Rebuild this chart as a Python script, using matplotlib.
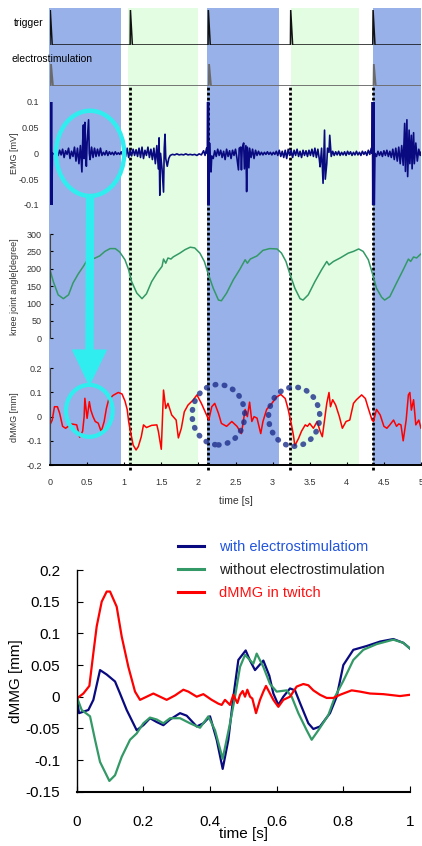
import numpy as np
import matplotlib
matplotlib.use('Agg')
import matplotlib.pyplot as plt
from matplotlib.patches import Ellipse
from matplotlib.ticker import FormatStrFormatter

plt.rcParams['font.family'] = ['Liberation Sans', 'DejaVu Sans']
plt.rcParams['axes.unicode_minus'] = False

# ---- data: top panel (time 0-5 s) ----
trigger_times = [0.0, 1.08, 2.13, 3.24, 4.35]
stim_times = [0.0, 2.13, 4.35]
blue_spans = [(-0.02, 0.96), (2.11, 3.09), (4.35, 5.0)]
green_spans = [(1.05, 2.0), (3.25, 4.17)]

emg = [
    (0.000, 0.000), (0.008, 0.100), (0.014, -0.100), (0.020, 0.100), (0.026, -0.100), (0.032, 0.000),
    (0.11, -0.004), (0.13, 0.006), (0.15, -0.003), (0.17, 0.008), (0.19, -0.008), (0.21, 0.005),
    (0.23, -0.002), (0.25, 0.010), (0.27, -0.010), (0.29, 0.004), (0.31, -0.006), (0.33, 0.012),
    (0.35, -0.015), (0.37, 0.010), (0.39, -0.020), (0.41, 0.015), (0.43, -0.036), (0.44, 0.020),
    (0.45, 0.055), (0.46, -0.010), (0.47, 0.060), (0.48, 0.010), (0.49, -0.025), (0.50, 0.020),
    (0.52, 0.065), (0.53, 0.000), (0.54, -0.012), (0.56, 0.012), (0.58, -0.008), (0.60, 0.010),
    (0.62, -0.006), (0.64, 0.008), (0.66, -0.005), (0.68, 0.010), (0.70, -0.004), (0.72, 0.002),
    (0.74, -0.003), (0.76, 0.005), (0.78, -0.004), (0.80, 0.003), (0.82, -0.002), (0.84, 0.002),
    (0.86, -0.003), (0.88, 0.003), (0.90, -0.002), (0.92, 0.001), (0.94, -0.002), (0.96, 0.003),
    (0.98, -0.004), (1.00, 0.006), (1.02, -0.006), (1.04, 0.010), (1.06, -0.008), (1.08, 0.006),
    (1.10, -0.005), (1.12, 0.008), (1.14, -0.004), (1.16, 0.007), (1.18, -0.006), (1.20, 0.010),
    (1.22, -0.008), (1.24, 0.012), (1.26, -0.010), (1.28, 0.006), (1.30, -0.004), (1.32, 0.012),
    (1.34, -0.008), (1.36, 0.008), (1.38, -0.012), (1.40, 0.010), (1.42, -0.020), (1.44, 0.015),
    (1.46, -0.030), (1.47, 0.030), (1.48, -0.081), (1.49, 0.000), (1.51, -0.030), (1.53, -0.075),
    (1.54, 0.010), (1.55, 0.037), (1.56, -0.010), (1.58, -0.025), (1.60, -0.010), (1.62, -0.004),
    (1.65, -0.002), (1.68, -0.003), (1.71, -0.001), (1.74, -0.003), (1.77, -0.002), (1.80, -0.003),
    (1.83, -0.001), (1.86, -0.003), (1.89, -0.002), (1.92, -0.003), (1.95, -0.002), (1.98, -0.004),
    (2.01, -0.001), (2.04, -0.003), (2.07, 0.005), (2.09, -0.004), (2.11, 0.010), (2.12, 0.000),
    (2.125, 0.100), (2.130, -0.100), (2.135, 0.100), (2.140, -0.100), (2.150, 0.020), (2.160, -0.020),
    (2.170, -0.036), (2.18, -0.005), (2.20, -0.010), (2.22, 0.005), (2.24, -0.006), (2.26, 0.008),
    (2.28, -0.004), (2.30, 0.006), (2.32, -0.008), (2.34, 0.004), (2.36, -0.012), (2.38, 0.008),
    (2.40, -0.006), (2.42, 0.005), (2.44, -0.010), (2.46, 0.006), (2.48, -0.004), (2.50, 0.008),
    (2.52, -0.010), (2.54, -0.032), (2.55, 0.010), (2.57, 0.012), (2.58, -0.032), (2.59, 0.010),
    (2.61, 0.020), (2.62, -0.030), (2.64, 0.015), (2.65, -0.074), (2.66, 0.012), (2.68, -0.028),
    (2.69, 0.010), (2.71, -0.008), (2.73, 0.008), (2.75, -0.010), (2.77, 0.006), (2.79, -0.004),
    (2.81, 0.004), (2.83, -0.003), (2.85, 0.002), (2.87, -0.003), (2.89, 0.002), (2.91, -0.002),
    (2.93, 0.003), (2.95, -0.002), (2.97, 0.002), (2.99, -0.003), (3.01, 0.002), (3.03, -0.002),
    (3.05, 0.004), (3.07, -0.004), (3.09, 0.006), (3.11, -0.006), (3.13, 0.004), (3.15, -0.008),
    (3.17, 0.006), (3.19, -0.010), (3.21, 0.008), (3.23, -0.004), (3.25, 0.006), (3.27, -0.008),
    (3.29, 0.006), (3.31, -0.004), (3.33, 0.008), (3.35, -0.006), (3.37, 0.004), (3.39, -0.008),
    (3.41, 0.006), (3.43, -0.004), (3.45, 0.005), (3.47, -0.006), (3.49, 0.006), (3.51, -0.004),
    (3.53, 0.008), (3.55, -0.006), (3.57, 0.010), (3.59, -0.008), (3.61, 0.008), (3.63, -0.012),
    (3.64, -0.026), (3.66, 0.010), (3.68, -0.058), (3.70, 0.045), (3.71, -0.050), (3.73, -0.020),
    (3.74, 0.010), (3.76, 0.002), (3.77, 0.035), (3.79, -0.006), (3.81, 0.004), (3.83, -0.004),
    (3.85, 0.003), (3.87, -0.003), (3.89, 0.004), (3.91, -0.004), (3.93, 0.002), (3.95, -0.003),
    (3.97, 0.003), (3.99, -0.004), (4.01, 0.004), (4.03, -0.002), (4.05, 0.003), (4.07, -0.004),
    (4.09, 0.002), (4.11, -0.003), (4.13, 0.004), (4.15, -0.003), (4.17, 0.002), (4.19, -0.004),
    (4.21, 0.004), (4.23, -0.002), (4.25, 0.003), (4.27, -0.004), (4.29, 0.006), (4.31, -0.002),
    (4.33, 0.010), (4.34, 0.000),
    (4.345, 0.100), (4.350, -0.100), (4.355, 0.100), (4.360, -0.100), (4.365, 0.100), (4.370, -0.100),
    (4.38, 0.000), (4.40, -0.006), (4.42, 0.004), (4.44, -0.004), (4.46, 0.003), (4.48, -0.006),
    (4.50, 0.005), (4.52, -0.004), (4.54, 0.006), (4.56, -0.006), (4.58, 0.004), (4.60, -0.008),
    (4.62, 0.008), (4.64, -0.012), (4.66, 0.010), (4.68, -0.015), (4.70, 0.012), (4.72, -0.020),
    (4.74, 0.015), (4.76, -0.023), (4.78, 0.058), (4.79, -0.035), (4.81, 0.065), (4.82, -0.045),
    (4.84, 0.045), (4.85, -0.020), (4.87, 0.035), (4.88, -0.030), (4.90, 0.040), (4.91, -0.020),
    (4.93, 0.020), (4.95, -0.015), (4.97, 0.008), (4.99, -0.004), (5.00, 0.002),
]

knee = [
    (0.00, 197), (0.045, 163), (0.11, 125), (0.18, 114), (0.25, 125), (0.31, 159), (0.38, 185),
    (0.45, 207), (0.49, 221), (0.55, 226), (0.61, 231), (0.67, 237), (0.74, 250), (0.81, 258),
    (0.88, 258), (0.94, 248), (1.01, 226), (1.06, 197), (1.10, 163), (1.17, 130), (1.24, 114),
    (1.30, 128), (1.37, 163), (1.44, 187), (1.51, 207), (1.53, 228), (1.56, 216), (1.59, 231),
    (1.63, 228), (1.66, 234), (1.75, 245), (1.82, 255), (1.89, 262), (1.95, 260), (2.02, 245),
    (2.08, 221), (2.13, 187), (2.20, 144), (2.27, 110), (2.31, 108), (2.38, 130), (2.47, 168),
    (2.56, 199), (2.63, 226), (2.66, 216), (2.70, 228), (2.79, 237), (2.87, 253), (2.96, 258),
    (3.06, 257), (3.12, 245), (3.18, 221), (3.23, 187), (3.30, 144), (3.37, 114), (3.41, 110),
    (3.48, 125), (3.57, 163), (3.66, 197), (3.73, 221), (3.76, 211), (3.82, 221), (3.91, 231),
    (4.02, 245), (4.09, 250), (4.16, 257), (4.22, 250), (4.29, 226), (4.35, 183), (4.40, 144),
    (4.47, 118), (4.51, 110), (4.58, 120), (4.67, 159), (4.76, 197), (4.83, 228), (4.86, 221),
    (4.90, 234), (4.94, 231), (5.00, 243),
]

dmmg = [
    (0.00, -0.034), (0.03, -0.014), (0.06, 0.041), (0.10, 0.041), (0.13, 0.014), (0.17, -0.040),
    (0.21, -0.048), (0.29, -0.030), (0.36, -0.034), (0.40, -0.085), (0.44, -0.060), (0.46, 0.000),
    (0.47, 0.076), (0.50, -0.007), (0.53, 0.062), (0.55, 0.027), (0.58, 0.000), (0.61, -0.020),
    (0.65, -0.027), (0.69, -0.062), (0.73, -0.020), (0.76, 0.034), (0.79, 0.070), (0.85, 0.088),
    (0.92, 0.100), (0.97, 0.094), (1.01, 0.065), (1.04, 0.030), (1.06, -0.020), (1.09, -0.070),
    (1.12, -0.117), (1.16, -0.138), (1.19, -0.124), (1.23, -0.083), (1.26, -0.034), (1.30, -0.045),
    (1.37, -0.036), (1.44, -0.034), (1.46, -0.060), (1.50, -0.135), (1.53, 0.110), (1.56, 0.034),
    (1.59, 0.055), (1.64, 0.007), (1.70, -0.014), (1.73, -0.088), (1.77, -0.048), (1.81, 0.020),
    (1.86, 0.048), (1.93, 0.069), (1.98, 0.090), (2.04, 0.055), (2.11, 0.007), (2.14, -0.014),
    (2.18, 0.041), (2.22, 0.055), (2.27, 0.014), (2.31, -0.028), (2.38, -0.040), (2.45, -0.020),
    (2.52, -0.040), (2.58, -0.070), (2.63, 0.030), (2.66, 0.000), (2.69, 0.060), (2.72, -0.020),
    (2.75, 0.000), (2.79, -0.006), (2.84, -0.070), (2.87, -0.020), (2.92, 0.030), (2.99, 0.055),
    (3.05, 0.080), (3.11, 0.092), (3.17, 0.075), (3.21, 0.030), (3.25, -0.027), (3.28, -0.076),
    (3.30, -0.120), (3.35, -0.090), (3.39, -0.060), (3.44, -0.034), (3.47, -0.040), (3.50, -0.028),
    (3.55, -0.048), (3.60, -0.020), (3.64, -0.060), (3.67, -0.083), (3.73, 0.055), (3.76, 0.100),
    (3.78, 0.041), (3.81, 0.070), (3.85, 0.048), (3.90, 0.000), (3.94, -0.048), (3.99, -0.020),
    (4.04, -0.014), (4.09, 0.055), (4.13, 0.070), (4.20, 0.090), (4.25, 0.075), (4.29, 0.034),
    (4.34, -0.014), (4.36, -0.020), (4.40, 0.030), (4.45, 0.007), (4.50, -0.040), (4.54, -0.048),
    (4.58, -0.034), (4.63, -0.014), (4.67, -0.040), (4.70, -0.030), (4.73, -0.034), (4.76, -0.100),
    (4.80, -0.014), (4.83, 0.090), (4.85, 0.100), (4.87, 0.027), (4.90, 0.070), (4.93, -0.034),
    (4.97, -0.014), (5.00, -0.048),
]

top_xticks = [0, 0.5, 1, 1.5, 2, 2.5, 3, 3.5, 4, 4.5, 5]
emg_yticks = [-0.1, -0.05, 0, 0.05, 0.1]
knee_yticks = [0, 50, 100, 150, 200, 250, 300]
dmmg_yticks = [-0.2, -0.1, 0, 0.1, 0.2]

# ---- data: bottom panel (one cycle, 0-1 s) ----
with_es = [
    (0.0, 0.0), (0.007, -0.026), (0.035, -0.021), (0.05, -0.005), (0.07, 0.042), (0.09, 0.035),
    (0.115, 0.024), (0.13, 0.005), (0.15, -0.021), (0.18, -0.053), (0.20, -0.045), (0.22, -0.034),
    (0.24, -0.040), (0.26, -0.045), (0.28, -0.036), (0.31, -0.026), (0.33, -0.030), (0.36, -0.047),
    (0.38, -0.042), (0.40, -0.031), (0.42, -0.068), (0.438, -0.114), (0.455, -0.068), (0.47, 0.0),
    (0.485, 0.058), (0.507, 0.073), (0.52, 0.057), (0.535, 0.042), (0.56, 0.057), (0.578, 0.033),
    (0.59, 0.005), (0.605, -0.013), (0.62, 0.0), (0.64, 0.013), (0.655, 0.010), (0.67, -0.010),
    (0.695, -0.042), (0.71, -0.051), (0.73, -0.047), (0.76, -0.026), (0.78, 0.0), (0.80, 0.050),
    (0.83, 0.074), (0.87, 0.080), (0.91, 0.087), (0.95, 0.091), (0.98, 0.085), (1.0, 0.076),
]
without_es = [
    (0.0, 0.0), (0.015, -0.021), (0.04, -0.031), (0.055, -0.068), (0.07, -0.103), (0.098, -0.133),
    (0.115, -0.124), (0.135, -0.095), (0.16, -0.068), (0.18, -0.058), (0.20, -0.042), (0.22, -0.033),
    (0.24, -0.036), (0.26, -0.042), (0.28, -0.034), (0.31, -0.034), (0.34, -0.042), (0.37, -0.049),
    (0.395, -0.031), (0.415, -0.053), (0.438, -0.098), (0.46, -0.042), (0.475, 0.0), (0.49, 0.047),
    (0.505, 0.066), (0.53, 0.052), (0.54, 0.068), (0.56, 0.047), (0.58, 0.020), (0.60, 0.008),
    (0.63, 0.010), (0.645, 0.0), (0.665, -0.026), (0.69, -0.053), (0.705, -0.068), (0.725, -0.053),
    (0.755, -0.029), (0.775, 0.0), (0.80, 0.025), (0.83, 0.058), (0.86, 0.074), (0.90, 0.083),
    (0.95, 0.090), (0.98, 0.085), (1.0, 0.076),
]
twitch = [
    (0.0, -0.003), (0.02, 0.005), (0.038, 0.017), (0.05, 0.069), (0.06, 0.111), (0.075, 0.150),
    (0.09, 0.166), (0.10, 0.166), (0.12, 0.142), (0.135, 0.095), (0.155, 0.047), (0.175, 0.008),
    (0.19, -0.005), (0.21, 0.0), (0.23, 0.005), (0.25, 0.0), (0.27, -0.005), (0.295, 0.002),
    (0.32, 0.011), (0.335, 0.008), (0.36, 0.0), (0.38, 0.004), (0.405, -0.005), (0.425, -0.011),
    (0.435, -0.013), (0.445, -0.005), (0.46, -0.013), (0.47, 0.003), (0.482, -0.010), (0.49, 0.003),
    (0.498, 0.009), (0.505, 0.0), (0.512, 0.011), (0.52, 0.0), (0.527, -0.003), (0.538, -0.026),
    (0.55, -0.005), (0.56, 0.008), (0.568, 0.017), (0.58, 0.005), (0.59, -0.005), (0.605, -0.016),
    (0.62, -0.005), (0.64, 0.0), (0.66, 0.016), (0.68, 0.020), (0.695, 0.018), (0.71, 0.010),
    (0.73, 0.003), (0.75, -0.002), (0.77, -0.002), (0.79, 0.003), (0.825, 0.010), (0.85, 0.008),
    (0.88, 0.005), (0.92, 0.004), (0.97, 0.001), (1.0, 0.003),
]
legend_labels = ['with electrostimulatiom', 'without electrostimulation', 'dMMG in twitch']
legend_text_colors = ['#2255dd', '#222222', '#ff1010']
bottom_xticks = [0, 0.2, 0.4, 0.6, 0.8, 1.0]
bottom_yticks = [-0.15, -0.1, -0.05, 0, 0.05, 0.1, 0.15, 0.2]

NAVY = '#0a0a80'
GREEN = '#339966'
RED = '#ff0000'
BLUE_BG = '#98b1e8'
GREEN_BG = '#e2fde2'
CYAN = '#30eef0'

W, H = 422, 846
fig = plt.figure(figsize=(W / 100, H / 100), dpi=100)


def box(x0, y_top, x1, y_bot):
    # pixel rectangle -> figure fraction
    return [x0 / W, 1 - y_bot / H, (x1 - x0) / W, (y_bot - y_top) / H]


# background shading + dotted trigger markers
bg = fig.add_axes(box(50, 8, 421, 465), zorder=0)
bg.set_xlim(0, 5)
bg.set_ylim(0, 1)
bg.axis('off')
for a, b in blue_spans:
    bg.axvspan(a, b, color=BLUE_BG, lw=0, clip_on=False)
for a, b in green_spans:
    bg.axvspan(a, b, color=GREEN_BG, lw=0, clip_on=False)
for t in trigger_times[1:]:
    bg.plot([t, t], [-0.012, 0.828], color='black', lw=2, ls=(0, (1, 0.8)), clip_on=False)

# trigger
ax_tr = fig.add_axes(box(50, 10, 421, 45), zorder=2)
tx, ty = [], []
for t in trigger_times:
    tx += [t, t + 0.004, t + 0.03]
    ty += [0, 1, 0]
tx.append(5.0)
ty.append(0)
ax_tr.plot(tx, ty, color='#111111', lw=1.1)
ax_tr.set_xlim(0, 5)
ax_tr.set_ylim(0, 1)
ax_tr.axis('off')
ax_tr.text(-0.018, 0.63, 'trigger', transform=ax_tr.transAxes, ha='right', va='center', fontsize=7.5)

# electrostimulation
ax_st = fig.add_axes(box(50, 64, 421, 86), zorder=2)
sx, sy = [], []
for t in stim_times:
    sx += [t + 0.01, t + 0.014, t + 0.04]
    sy += [0, 1, 0]
sx.append(5.0)
sy.append(0)
ax_st.plot(sx, sy, color='#6a6a6a', lw=1.3)
ax_st.set_xlim(0, 5)
ax_st.set_ylim(0, 1)
ax_st.axis('off')
ax_st.text(-0.103, 1.23, 'electrostimulation', transform=ax_st.transAxes, ha='left', va='center',
           fontsize=7.5)

small = 6.5
ylab_x = (19 - 50) / 371

# EMG
ax_emg = fig.add_axes(box(50, 101.7, 421, 205), zorder=3)
ax_emg.patch.set_alpha(0)
et, ev = np.array(emg).T
ax_emg.plot(et, ev, color=NAVY, lw=1.2)
ax_emg.set_xlim(0, 5)
ax_emg.set_ylim(-0.1, 0.1)
for s in ax_emg.spines.values():
    s.set_visible(False)
ax_emg.set_xticks([])
ax_emg.set_yticks(emg_yticks)
ax_emg.yaxis.set_major_formatter(FormatStrFormatter('%g'))
ax_emg.tick_params(axis='y', length=0, pad=8, labelsize=small, labelcolor='#333333')
ax_emg.set_ylabel('EMG [mV]', fontsize=small, color='#333333')
ax_emg.yaxis.set_label_coords(ylab_x, 0.5)
ax_emg.add_patch(Ellipse((0.54, 0.0), 0.92, 0.165, fill=False, ec=CYAN, lw=3.2, clip_on=False, zorder=5))

# knee joint angle
ax_kn = fig.add_axes(box(50, 234, 421, 338.3), zorder=3)
ax_kn.patch.set_alpha(0)
kt, kv = np.array(knee).T
ax_kn.plot(kt, kv, color=GREEN, lw=1.1)
ax_kn.set_xlim(0, 5)
ax_kn.set_ylim(0, 300)
for side in ['top', 'right', 'bottom']:
    ax_kn.spines[side].set_visible(False)
ax_kn.spines['left'].set_color('#444444')
ax_kn.spines['left'].set_linewidth(0.8)
ax_kn.set_xticks([])
ax_kn.set_yticks(knee_yticks)
ax_kn.tick_params(axis='y', length=2, direction='in', pad=6, labelsize=small, labelcolor='#333333')
ax_kn.set_ylabel('knee joint angle[degree]', fontsize=small, color='#333333')
ax_kn.yaxis.set_label_coords(ylab_x, 0.5)

# dMMG
ax_dm = fig.add_axes(box(50, 368.3, 421, 465), zorder=3)
ax_dm.patch.set_alpha(0)
dt, dv = np.array(dmmg).T
ax_dm.plot(dt, dv, color=RED, lw=1.1)
ax_dm.set_xlim(0, 5)
ax_dm.set_ylim(-0.2, 0.2)
for side in ['top', 'right']:
    ax_dm.spines[side].set_visible(False)
ax_dm.spines['left'].set_color('#444444')
ax_dm.spines['left'].set_linewidth(0.8)
ax_dm.spines['bottom'].set_linewidth(1.4)
ax_dm.set_xticks(top_xticks)
ax_dm.set_yticks(dmmg_yticks)
ax_dm.xaxis.set_major_formatter(FormatStrFormatter('%g'))
ax_dm.yaxis.set_major_formatter(FormatStrFormatter('%g'))
ax_dm.tick_params(axis='y', length=2, direction='in', pad=6, labelsize=small, labelcolor='#333333')
ax_dm.tick_params(axis='x', length=2, direction='in', pad=9, labelsize=small, labelcolor='#333333')
ax_dm.set_ylabel('dMMG [mm]', fontsize=small, color='#333333')
ax_dm.yaxis.set_label_coords(ylab_x, 0.5)
ax_dm.set_xlabel('time [s]', fontsize=7.5, color='#333333', labelpad=7)

ax_dm.add_patch(Ellipse((0.53, 0.024), 0.63, 0.215, fill=False, ec=CYAN, lw=3, clip_on=False, zorder=5))
for cx, cy, w, h in [(2.27, 0.008, 0.71, 0.25), (3.29, 0.0, 0.69, 0.245)]:
    e = Ellipse((cx, cy), w, h, fill=False, ec='#1e2f8c', lw=4, ls=(0, (0.1, 1.55)),
                clip_on=False, zorder=5, alpha=0.8)
    e.set_capstyle('round')
    ax_dm.add_patch(e)

# cyan arrow from EMG circle down to dMMG circle
ax_dm.annotate('', xy=(0.53, 0.024 + 0.215 / 2), xycoords='data',
               xytext=(0.54, -0.165 / 2), textcoords=ax_emg.transData,
               arrowprops=dict(arrowstyle='simple,head_width=2.4,head_length=2.5,tail_width=0.5',
                               color=CYAN, shrinkA=0, shrinkB=0, mutation_scale=10),
               zorder=6, annotation_clip=False)

# ---- bottom panel ----
ax_b = fig.add_axes(box(76.7, 570, 410, 791.7))
for data, col in [(with_es, NAVY), (without_es, GREEN), (twitch, RED)]:
    bt, bv = np.array(data).T
    ax_b.plot(bt, bv, color=col, lw=1.6)
ax_b.set_xlim(0, 1)
ax_b.set_ylim(-0.15, 0.2)
for side in ['top', 'right']:
    ax_b.spines[side].set_visible(False)
ax_b.spines['bottom'].set_linewidth(1.5)
ax_b.spines['left'].set_linewidth(1.0)
ax_b.set_xticks(bottom_xticks)
ax_b.set_yticks(bottom_yticks)
ax_b.xaxis.set_major_formatter(FormatStrFormatter('%g'))
ax_b.yaxis.set_major_formatter(FormatStrFormatter('%g'))
ax_b.tick_params(axis='x', length=4, direction='in', pad=17, labelsize=11)
ax_b.tick_params(axis='y', length=4, direction='in', pad=12, labelsize=11)
ax_b.set_xlabel('time [s]', fontsize=11, labelpad=-2)
ax_b.set_ylabel('dMMG [mm]', fontsize=11)
ax_b.yaxis.set_label_coords((23 - 76.7) / 333.3, 0.5)

leg = ax_b.legend(legend_labels, loc='upper left', bbox_to_anchor=(178 / W, 1 - 540 / H),
                  bbox_transform=fig.transFigure, frameon=False, fontsize=10.5,
                  handlelength=1.8, handletextpad=1.0, labelspacing=0.62, borderpad=0,
                  borderaxespad=0)
for txt, c in zip(leg.get_texts(), legend_text_colors):
    txt.set_color(c)
for ln in leg.get_lines():
    ln.set_linewidth(2.2)

fig.savefig('out.png', dpi=100)
